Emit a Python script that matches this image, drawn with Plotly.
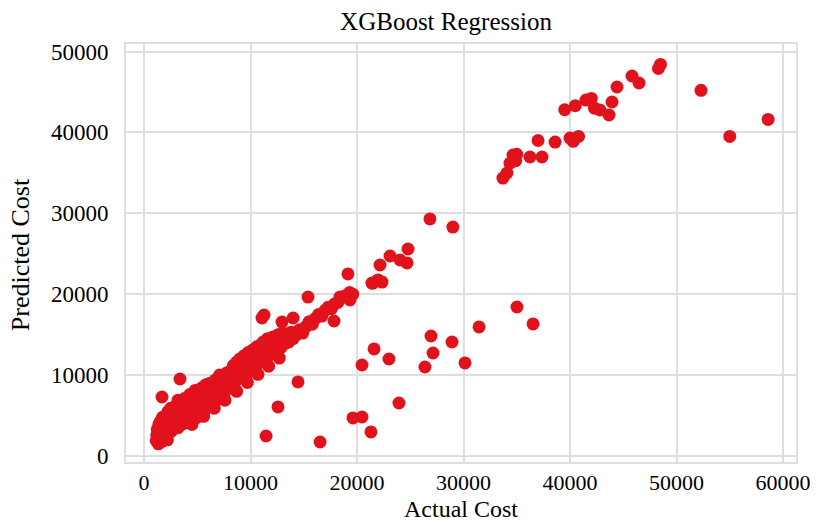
import plotly.graph_objects as go

# Actual vs predicted cost
actual = [
    # dense lower-left blob
    1150, 1200, 1250, 1300, 1350, 1400, 1450, 1500, 1550, 1600, 1650, 1700, 1750, 1800,
    1850, 1900, 1950, 2000, 2050, 2100, 2150, 2200, 2250, 2300, 2350, 2400, 2450, 2500,
    # band 2500-5000
    2600, 2700, 2800, 2900, 3000, 3100, 3200, 3300, 3400, 3500, 3600, 3700, 3800, 3900,
    4000, 4100, 4200, 4300, 4400, 4500, 4600, 4700, 4800, 4900, 5000,
    # band 5000-8000
    5100, 5200, 5300, 5400, 5500, 5600, 5700, 5800, 5900, 6000, 6100, 6200, 6300, 6400,
    6500, 6600, 6700, 6800, 6900, 7000, 7100, 7200, 7300, 7400, 7500, 7600, 7700, 7800,
    7900, 8000,
    # band 8000-11000
    8100, 8200, 8300, 8400, 8500, 8600, 8700, 8800, 8900, 9000, 9100, 9200, 9300, 9400,
    9500, 9600, 9700, 9800, 9900, 10000, 10100, 10200, 10300, 10400, 10500, 10600, 10700,
    10800, 10900, 11000,
    # band 11000-14000
    11100, 11200, 11300, 11400, 11500, 11600, 11700, 11800, 11900, 12000, 12100, 12200,
    12300, 12400, 12500, 12600, 12700, 12800, 12900, 13000, 13200, 13400, 13600, 13800, 14000,
    # extra band edge points
    4500, 5600, 6600, 7600, 8700, 9700, 10700, 11700, 12700, 3200, 8200, 9300,
    # sparser band 14000-20000
    14300, 14600, 14900, 15200, 15500, 15800, 16100, 16400, 16700, 17000, 17300, 17600,
    17900, 18200, 18500, 18900, 19300, 19600, 19340, 18400, 19150,
    # points above the band
    1690, 3380, 11080, 11270, 12960, 14000, 15400, 17840,
    # 20000-25000 upper group
    21400, 21970, 22160, 23100, 24040, 24700, 24790, 21500, 22350,
    # below-band outliers
    11460, 12580, 14460, 16530, 19620, 20470, 21310, 23940, 20470, 21600, 23000,
    26380, 27140, 26950, 28920, 30140, 31460, 35020, 36530,
    # 27000-30000 upper
    26850, 29000,
    # 34000-38000 group
    33700, 34080, 34370, 34650, 36240, 37370, 35000, 34900, 38600, 37000,
    # 40000-49000 group
    40000, 40300, 40800, 39500, 40500, 41500, 42000, 42300, 42817, 43662, 43944, 44413,
    45822, 46479, 48300, 48500,
    # far right outliers
    52300, 55000, 58600,
]
predicted = [
    1900, 2600, 3300, 2200, 1500, 3900, 2900, 2100, 4300, 3500, 2500, 1800, 4800, 3100,
    2300, 4100, 3600, 2700, 5000, 4400, 3200, 2000, 5500, 3900, 2900, 4700, 3400, 5900,
    3100, 4200, 5300, 3700, 6200, 4800, 3500, 5600, 4100, 6700, 5000, 4000, 7100, 5800,
    4500, 6400, 5200, 7600, 4300, 6000, 7000, 5400, 8100, 4700, 6500,
    5000, 7300, 6000, 8400, 5500, 7000, 6400, 8800, 5900, 7600, 6800, 9000, 7200, 6300,
    8200, 7500, 9400, 6900, 8600, 7900, 10000, 7400, 9100, 8300, 9700, 7900, 8900, 10300,
    8500, 9500,
    8700, 10600, 9300, 11200, 9000, 10000, 11600, 9600, 10800, 12000, 9900, 11300, 10400,
    12400, 10700, 11800, 10200, 12800, 11100, 12200, 10900, 13100, 11500, 12600, 11100,
    13500, 12000, 12900, 11600, 13800,
    12200, 14100, 12700, 13400, 12100, 14500, 13000, 12500, 13900, 12900, 14700, 13300,
    12800, 14200, 13600, 15000, 13200, 14000, 13500, 15200, 13900, 14600, 14100, 15300, 14500,
    3900, 4900, 5900, 6900, 8000, 9100, 10100, 11100, 12100, 6900, 10400, 11700,
    15000, 15600, 15200, 16000, 16600, 16300, 17000, 17500, 17300, 18000, 18400, 18200,
    18800, 19000, 19500, 19800, 20200, 20000, 19280, 19650, 22500,
    7290, 9520, 17060, 17430, 16560, 17060, 19650, 16690,
    21380, 21760, 23610, 24720, 24230, 23860, 25590, 21380, 21500,
    2470, 6060, 9150, 1730, 4700, 4820, 2970, 6550, 11250, 13230, 11990,
    11000, 12730, 14830, 14090, 11500, 15950, 18420, 16320,
    29300, 28300,
    34360, 34980, 36200, 37200, 36960, 36960, 37300, 36500, 38800, 39000,
    39300, 38900, 39500, 42800, 43300, 44000, 44200, 43000, 42769, 42151, 43758, 45611,
    46971, 46106, 47900, 48400,
    45200, 39500, 41600,
]

x_ticks = [0, 10000, 20000, 30000, 40000, 50000, 60000]
y_ticks = [0, 10000, 20000, 30000, 40000, 50000]

font_family = "Liberation Serif, Times New Roman, serif"
grid = "#DEDEDE"

fig = go.Figure(
    go.Scatter(
        x=actual, y=predicted, mode="markers",
        marker=dict(size=13, color="#E2121C", line=dict(width=0)),
    )
)

fig.update_layout(
    width=823, height=523,
    margin=dict(l=126, r=27, t=44, b=61),
    paper_bgcolor="white", plot_bgcolor="white",
    showlegend=False,
    font=dict(family=font_family, color="black", size=23),
    title=dict(
        text="XGBoost Regression", font=dict(size=25, family=font_family, color="black"),
        x=446 / 823, xref="container", xanchor="center",
        y=1 - 21 / 523, yref="container", yanchor="middle",
    ),
    annotations=[
        dict(text="Actual Cost", xref="paper", yref="paper", x=0.5, y=-0.1124,
             xanchor="center", yanchor="middle", showarrow=False,
             font=dict(size=24, family=font_family, color="black")),
        dict(text="Predicted Cost", xref="paper", yref="paper", x=-0.158, y=0.495,
             xanchor="center", yanchor="middle", showarrow=False, textangle=-90,
             font=dict(size=26, family=font_family, color="black")),
    ],
)

fig.update_xaxes(
    range=[-1690, 61220], tickvals=x_ticks, ticktext=[str(v) for v in x_ticks],
    tickfont=dict(size=22),
    showgrid=True, gridcolor=grid, gridwidth=2, automargin=False,
    zeroline=False, showline=True, linecolor=grid, linewidth=2, mirror=True,
    ticks="", ticklabelstandoff=0,
)
fig.update_yaxes(
    range=[-742, 50927], tickvals=y_ticks, ticktext=[str(v) for v in y_ticks],
    showgrid=True, gridcolor=grid, gridwidth=2, automargin=False,
    zeroline=False, showline=True, linecolor=grid, linewidth=2, mirror=True,
    ticks="", ticklabelstandoff=11,
)

fig.write_html("out.html")
